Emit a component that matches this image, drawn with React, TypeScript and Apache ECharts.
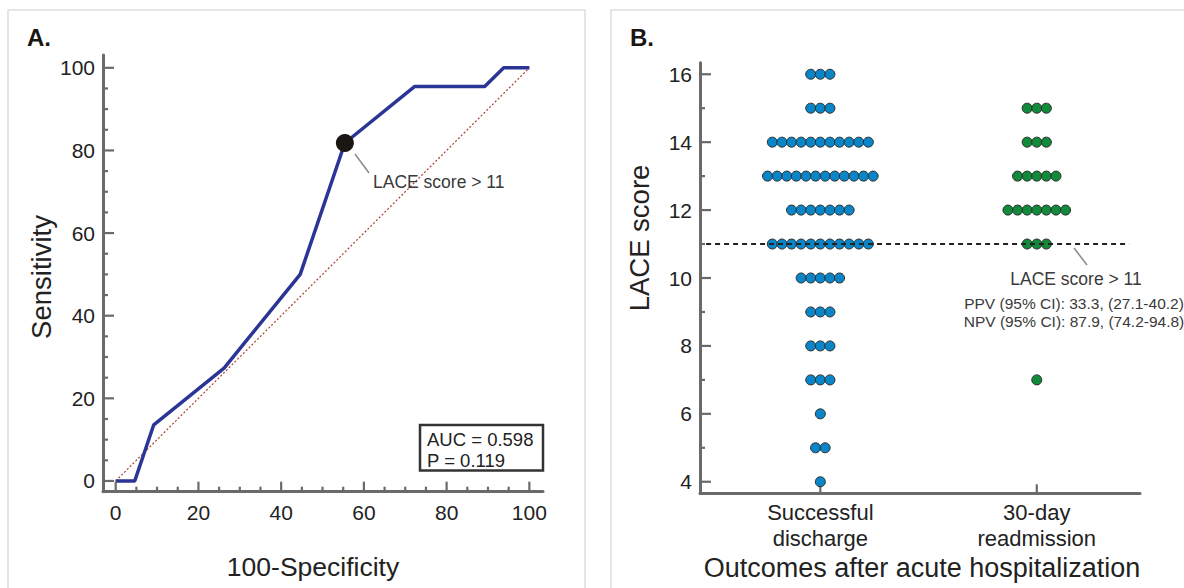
import React, { useEffect, useRef } from "react";
import * as echarts from "echarts";

// ---------- Panel A: ROC curve ----------
const ROC_FPR = [0, 4.6, 9.2, 26.2, 44.6, 55.4, 72.3, 80.0, 84.6, 89.2, 93.8, 95.4, 98.5, 100];
const ROC_TPR = [0, 0, 13.6, 27.3, 50.0, 81.8, 95.5, 95.5, 95.5, 95.5, 100, 100, 100, 100];
const DIAGONAL = [[0, 0], [100, 100]];
const CUT_POINT = [55.4, 81.8];
const ROC_MAJOR_TICKS = [0, 20, 40, 60, 80, 100];
const ROC_MINOR_TICKS = [5, 10, 15, 25, 30, 35, 45, 50, 55, 65, 70, 75, 85, 90, 95];
const AUC_TEXT = ["AUC = 0.598", "P = 0.119"];

// ---------- Panel B: dot plot ----------
const GROUPS = ["Successful\ndischarge", "30-day\nreadmission"];
const GROUP_POS = [1, 2];
const LACE_DISCHARGE = [16, 15, 14, 13, 12, 11, 10, 9, 8, 7, 6, 5, 4];
const COUNT_DISCHARGE = [3, 3, 11, 12, 7, 11, 5, 3, 3, 3, 1, 2, 1];
const LACE_READMIT = [15, 14, 13, 12, 11, 7];
const COUNT_READMIT = [3, 3, 5, 7, 3, 1];
const LACE_MAJOR_TICKS = [4, 6, 8, 10, 12, 14, 16];
const LACE_MINOR_TICKS = [5, 7, 9, 11, 13, 15];
const LACE_CUTOFF = 11;
const CUTOFF_TEXT = ["LACE score > 11", "PPV (95% CI): 33.3, (27.1-40.2)", "NPV (95% CI): 87.9, (74.2-94.8)"];

const FONT = "'Liberation Sans', Arial, Helvetica, sans-serif";
const AXIS = "#6a6a6a";
const DOT_SPACING = 9.6;

function dots(groupPos: number, values: number[], counts: number[]) {
  const out: any[] = [];
  values.forEach((v, r) => {
    const n = counts[r];
    for (let i = 0; i < n; i++) {
      out.push({ value: [groupPos, v], symbolOffset: [(i - (n - 1) / 2) * DOT_SPACING, 0] });
    }
  });
  return out;
}

function txt(text: string, x: number, y: number, size: number, extra: any = {}) {
  const { align = "left", vAlign = "middle", weight = "normal", color = "#222", rotation = 0 } = extra;
  return {
    type: "text",
    x,
    y,
    rotation,
    z: 100,
    style: {
      text,
      fill: color,
      fontSize: size,
      fontFamily: FONT,
      fontWeight: weight,
      align,
      textAlign: align,
      verticalAlign: vAlign,
      textVerticalAlign: vAlign,
    },
  };
}

// axis carrying the line and the labels
function labelAxis(grid: number, position: string, min: number, max: number, labels: number[], labelExtra: any = {}) {
  return {
    type: "value",
    gridIndex: grid,
    position,
    min,
    max,
    axisLine: { show: true, onZero: false, lineStyle: { color: AXIS, width: 3 } },
    axisTick: { show: false },
    axisLabel: { show: true, customValues: labels, fontSize: 21, color: "#222", fontFamily: FONT, ...labelExtra },
    splitLine: { show: false },
  };
}

// inward tick marks, placed through the axes' own scales
function tickSeries(axisIdx: number, dir: "x" | "y", values: number[], fixed: number, len: number) {
  return {
    type: "custom",
    xAxisIndex: axisIdx,
    yAxisIndex: axisIdx,
    silent: true,
    clip: false,
    z: 4,
    data: values.map((v) => (dir === "x" ? [v, fixed] : [fixed, v])),
    renderItem: (_params: any, api: any) => {
      const p = api.coord([api.value(0), api.value(1)]);
      const shape =
        dir === "x"
          ? { x1: p[0], y1: p[1], x2: p[0], y2: p[1] - len }
          : { x1: p[0], y1: p[1], x2: p[0] + len, y2: p[1] };
      return { type: "line", shape, style: { stroke: AXIS, lineWidth: 2.2 } };
    },
  };
}

export default function App() {
  const ref = useRef<HTMLDivElement>(null);

  useEffect(() => {
    document.body.style.margin = "0";
    const chart = echarts.init(ref.current!, undefined, { renderer: "svg" });

    const AX = [-3.07, 103.3];
    const AY = [-2.6, 103.1];
    const BX = [0.444, 2.477];
    const BY = [3.66, 16.34];

    const option: any = {
      animation: false,
      backgroundColor: "#ffffff",
      grid: [
        { left: 103, top: 55, width: 440, height: 436.7, outerBoundsMode: "none" },
        { left: 700, top: 62.7, width: 440, height: 430.6, outerBoundsMode: "none" },
      ],
      xAxis: [
        labelAxis(0, "bottom", AX[0], AX[1], ROC_MAJOR_TICKS, { margin: 10 }),
        labelAxis(1, "bottom", BX[0], BX[1], GROUP_POS, {
          margin: 6,
          fontSize: 22,
          lineHeight: 26,
          formatter: (v: number) => GROUPS[GROUP_POS.indexOf(Math.round(v))] ?? "",
        }),
      ],
      yAxis: [
        labelAxis(0, "left", AY[0], AY[1], ROC_MAJOR_TICKS, { margin: 8 }),
        labelAxis(1, "left", BY[0], BY[1], LACE_MAJOR_TICKS, { margin: 8 }),
      ],
      series: [
        tickSeries(0, "x", ROC_MAJOR_TICKS, AY[0], 10),
        tickSeries(0, "x", ROC_MINOR_TICKS, AY[0], 5),
        tickSeries(0, "y", ROC_MAJOR_TICKS, AX[0], 11),
        tickSeries(0, "y", ROC_MINOR_TICKS, AX[0], 5),
        tickSeries(1, "x", GROUP_POS, BY[0], 9),
        tickSeries(1, "y", LACE_MAJOR_TICKS, BX[0], 11),
        tickSeries(1, "y", LACE_MINOR_TICKS, BX[0], 5),
        {
          type: "line",
          xAxisIndex: 0,
          yAxisIndex: 0,
          data: DIAGONAL,
          symbol: "none",
          lineStyle: { color: "#a8402f", width: 1.2, type: [2, 2] },
          z: 2,
        },
        {
          type: "line",
          xAxisIndex: 0,
          yAxisIndex: 0,
          data: ROC_FPR.map((x, i) => [x, ROC_TPR[i]]),
          symbol: "none",
          lineStyle: { color: "#2b3595", width: 3.5 },
          z: 3,
        },
        {
          type: "scatter",
          xAxisIndex: 0,
          yAxisIndex: 0,
          data: [CUT_POINT],
          symbolSize: 18,
          itemStyle: { color: "#1a1614", opacity: 1 },
          z: 5,
        },
        {
          type: "scatter",
          xAxisIndex: 1,
          yAxisIndex: 1,
          data: dots(GROUP_POS[0], LACE_DISCHARGE, COUNT_DISCHARGE),
          symbolSize: 10,
          itemStyle: { color: "#0a86c8", borderColor: "#2b2b2b", borderWidth: 1, opacity: 1 },
          z: 5,
        },
        {
          type: "scatter",
          xAxisIndex: 1,
          yAxisIndex: 1,
          data: dots(GROUP_POS[1], LACE_READMIT, COUNT_READMIT),
          symbolSize: 10,
          itemStyle: { color: "#13893b", borderColor: "#2b2b2b", borderWidth: 1, opacity: 1 },
          z: 5,
        },
        {
          type: "line",
          xAxisIndex: 1,
          yAxisIndex: 1,
          data: [[0.472, LACE_CUTOFF], [2.427, LACE_CUTOFF]],
          symbol: "none",
          lineStyle: { color: "#222", width: 2, type: [5, 4] },
          z: 10,
        },
      ],
      graphic: [
        { type: "rect", shape: { x: 8, y: 10, width: 577, height: 600 }, style: { fill: "none", stroke: "#dddddd", lineWidth: 1.5 }, z: 0 },
        { type: "rect", shape: { x: 611, y: 10, width: 600, height: 600 }, style: { fill: "none", stroke: "#dddddd", lineWidth: 1.5 }, z: 0 },
        txt("A.", 27, 37, 24, { weight: "bold", color: "#1a1614" }),
        txt("B.", 630, 37, 24, { weight: "bold", color: "#1a1614" }),
        txt("Sensitivity", 41, 277, 27.5, { align: "center", rotation: Math.PI / 2 }),
        txt("100-Specificity", 313, 566.5, 26.5, { align: "center" }),
        txt("LACE score", 639, 238, 27.5, { align: "center", rotation: Math.PI / 2 }),
        txt("Outcomes after acute hospitalization", 922, 568, 27, { align: "center" }),
        // Panel A annotation
        { type: "line", shape: { x1: 355, y1: 154, x2: 369, y2: 173 }, style: { stroke: "#8a8a8a", lineWidth: 1.5 }, z: 100 },
        txt(CUTOFF_TEXT[0], 373, 182, 17.5, { color: "#3a3a3a" }),
        { type: "rect", shape: { x: 420, y: 425, width: 123, height: 45.5 }, style: { fill: "#fff", stroke: "#333", lineWidth: 2.5 }, z: 100 },
        txt(AUC_TEXT[0], 427, 439, 18.5, { color: "#222" }),
        txt(AUC_TEXT[1], 427, 460, 18.5, { color: "#222" }),
        // Panel B annotation
        { type: "line", shape: { x1: 1074, y1: 248, x2: 1087, y2: 265 }, style: { stroke: "#8a8a8a", lineWidth: 1.5 }, z: 100 },
        txt(CUTOFF_TEXT[0], 1076, 279, 17.5, { align: "center", color: "#3a3a3a" }),
        txt(CUTOFF_TEXT[1], 1074, 303, 15.5, { align: "center", color: "#3a3a3a" }),
        txt(CUTOFF_TEXT[2], 1074, 321.5, 15.5, { align: "center", color: "#3a3a3a" }),
      ],
    };

    chart.setOption(option);
    return () => chart.dispose();
  }, []);

  return <div ref={ref} style={{ width: 1184, height: 588, overflow: "hidden" }} />;
}
